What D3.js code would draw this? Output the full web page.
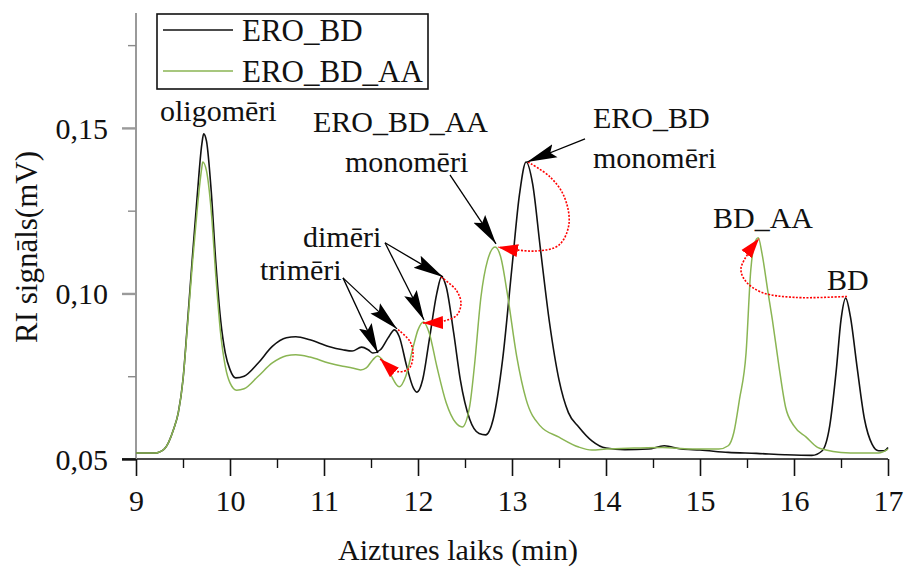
<!DOCTYPE html>
<html lang="lv">
<head>
<meta charset="UTF-8">
<title>RI signāls</title>
<script src="https://d3js.org/d3.v7.min.js"></script>
<style>
    body { margin: 0; background: #fff; }
    svg { display: block; font-family: "Times New Roman", Times, "Liberation Serif", "DejaVu Serif", "Noto Serif", serif; }
    .tick text { font-family: "Times New Roman", Times, "Liberation Serif", "DejaVu Serif", "Noto Serif", serif; font-size: 30px; fill: #111; }
    .ann { font-size: 30px; fill: #111; }
</style>
</head>
<body>
<svg width="912" height="569"></svg>
<script>
// ERO_BD (black) – [time min, signal mV]
const eroBD = [
    [9.00,0.0518],[9.20,0.0518],[9.30,0.0530],[9.40,0.0590],[9.45,0.0640],[9.50,0.0740],
    [9.55,0.0920],[9.60,0.1110],[9.65,0.1290],[9.70,0.1450],[9.72,0.1482],[9.75,0.1460],
    [9.80,0.1310],[9.85,0.1090],[9.90,0.0920],[9.95,0.0820],[10.00,0.0770],[10.06,0.0745],
    [10.15,0.0750],[10.30,0.0790],[10.45,0.0840],[10.60,0.0866],[10.70,0.0869],[10.85,0.0860],
    [11.05,0.0840],[11.20,0.0830],[11.30,0.0826],[11.40,0.0838],[11.47,0.0830],[11.52,0.0820],
    [11.60,0.0830],[11.68,0.0865],[11.75,0.0890],[11.80,0.0870],[11.88,0.0780],[11.95,0.0715],
    [11.99,0.0702],[12.05,0.0740],[12.12,0.0860],[12.20,0.1000],[12.25,0.1050],[12.30,0.1020],
    [12.38,0.0880],[12.45,0.0740],[12.55,0.0620],[12.65,0.0577],[12.72,0.0573],[12.80,0.0620],
    [12.90,0.0800],[13.00,0.1080],[13.08,0.1300],[13.15,0.1397],[13.22,0.1330],[13.30,0.1140],
    [13.40,0.0910],[13.50,0.0739],[13.60,0.0640],[13.71,0.0597],[13.85,0.0555],[14.00,0.0533],
    [14.20,0.0528],[14.45,0.0530],[14.62,0.0540],[14.80,0.0530],[15.00,0.0527],[15.30,0.0520],
    [15.60,0.0517],[15.90,0.0513],[16.19,0.0511],[16.30,0.0525],[16.38,0.0600],[16.45,0.0769],
    [16.50,0.0920],[16.55,0.0986],[16.60,0.0930],[16.67,0.0780],[16.75,0.0620],[16.83,0.0545],
    [16.90,0.0525],[16.96,0.0525],[17.00,0.0535]
];

// ERO_BD_AA (green)
const eroBDAA = [
    [9.00,0.0518],[9.20,0.0518],[9.30,0.0530],[9.40,0.0590],[9.45,0.0640],[9.50,0.0740],
    [9.55,0.0910],[9.60,0.1090],[9.65,0.1250],[9.70,0.1380],[9.71,0.1397],[9.75,0.1370],
    [9.80,0.1250],[9.85,0.1050],[9.90,0.0880],[9.95,0.0780],[10.00,0.0730],[10.07,0.0708],
    [10.15,0.0712],[10.30,0.0750],[10.45,0.0790],[10.60,0.0812],[10.70,0.0815],[10.85,0.0808],
    [11.05,0.0790],[11.20,0.0780],[11.30,0.0775],[11.39,0.0769],[11.45,0.0775],[11.52,0.0800],
    [11.57,0.0811],[11.62,0.0800],[11.70,0.0760],[11.80,0.0718],[11.87,0.0750],[11.95,0.0840],
    [12.00,0.0890],[12.06,0.0914],[12.12,0.0880],[12.20,0.0780],[12.30,0.0670],[12.40,0.0610],
    [12.47,0.0597],[12.55,0.0660],[12.60,0.0780],[12.67,0.0990],[12.74,0.1100],[12.82,0.1140],
    [12.88,0.1110],[12.95,0.1000],[13.05,0.0810],[13.15,0.0680],[13.30,0.0600],[13.50,0.0566],
    [13.71,0.0536],[13.85,0.0527],[14.00,0.0530],[14.30,0.0533],[14.60,0.0535],[14.90,0.0530],
    [15.20,0.0530],[15.30,0.0540],[15.36,0.0580],[15.42,0.0680],[15.49,0.0820],[15.54,0.1070],
    [15.58,0.1150],[15.62,0.1168],[15.66,0.1120],[15.72,0.1010],[15.77,0.0920],[15.84,0.0780],
    [15.91,0.0657],[16.00,0.0600],[16.13,0.0566],[16.25,0.0535],[16.34,0.0527],[16.50,0.0520],
    [16.70,0.0518],[16.90,0.0518],[17.00,0.0530]
];

const xMajor = [9, 10, 11, 12, 13, 14, 15, 16, 17];
const xMinor = [9.5, 10.5, 11.5, 12.5, 13.5, 14.5, 15.5, 16.5];
const yMajor = [0.05, 0.10, 0.15];
const yMinor = [0.075, 0.125, 0.175];

const seriesNames = ["ERO_BD", "ERO_BD_AA"];
const seriesColors = ["#111111", "#8ab553"];

// text labels: [text, time, signal] (left edge / baseline)
const labels = [
    ["oligomēri", 9.255, 0.1521],
    ["ERO_BD_AA", 10.883, 0.1488],
    ["monomēri", 11.223, 0.1367],
    ["ERO_BD", 13.862, 0.1500],
    ["monomēri", 13.862, 0.1379],
    ["dimēri", 10.777, 0.1140],
    ["trimēri", 10.319, 0.1041],
    ["BD_AA", 15.138, 0.1198],
    ["BD", 16.351, 0.1011]
];

// black pointer arrows: [fromT, fromV, toT, toV]
const pointers = [
    [13.777, 0.1467, 13.160, 0.1397],
    [12.340, 0.1358, 12.830, 0.1150],
    [11.649, 0.1153, 12.266, 0.1050],
    [11.649, 0.1153, 12.064, 0.0920],
    [11.202, 0.1047, 11.777, 0.0893],
    [11.202, 0.1047, 11.574, 0.0820]
];

// red dotted shift paths (black peak -> green peak)
const shifts = [
    [[13.170,0.1397],[13.404,0.1352],[13.553,0.1294],[13.606,0.1210],[13.499,0.1146],[13.245,0.1128],[12.851,0.1140]],
    [[12.245,0.1050],[12.404,0.1011],[12.457,0.0972],[12.415,0.0935],[12.277,0.0917],[12.053,0.0911]],
    [[11.787,0.0891],[11.915,0.0855],[11.947,0.0813],[11.904,0.0773],[11.787,0.0764],[11.596,0.0803]],
    [[16.564,0.0991],[16.011,0.0988],[15.660,0.1003],[15.489,0.1036],[15.436,0.1076],[15.628,0.1166]]
];

const svg = d3.select("svg");
const mLeft = 136, mRight = 888, mTop = 14, mBottom = 459;

const x = d3.scaleLinear().domain([9, 17]).range([mLeft, mRight]);
const y = d3.scaleLinear().domain([0.05, 0.1844]).range([mBottom, mTop]);

const defs = svg.append("defs");
defs.append("clipPath").attr("id", "plot")
    .append("rect").attr("x", mLeft).attr("y", mTop - 2)
    .attr("width", mRight - mLeft + 2).attr("height", mBottom - mTop + 2);

defs.append("marker").attr("id", "blackHead")
    .attr("markerUnits", "userSpaceOnUse")
    .attr("viewBox", "0 -8 32 16").attr("refX", 30).attr("refY", 0)
    .attr("markerWidth", 32).attr("markerHeight", 16).attr("orient", "auto")
    .append("path").attr("d", "M0,-7L30,0L0,7L5,0Z").attr("fill", "#000");

defs.append("marker").attr("id", "redHead")
    .attr("markerUnits", "userSpaceOnUse")
    .attr("viewBox", "0 -8 22 16").attr("refX", 20).attr("refY", 0)
    .attr("markerWidth", 22).attr("markerHeight", 16).attr("orient", "auto")
    .append("path").attr("d", "M0,-6.5L20,0L0,6.5Z").attr("fill", "#ff0000");

// axes
const gx = svg.append("g").attr("transform", `translate(0,${mBottom})`)
    .call(d3.axisBottom(x).tickValues(xMajor).tickSize(17).tickPadding(14).tickFormat(d3.format("d")));
gx.attr("font-family", null);
gx.select(".domain").attr("stroke", "#111").attr("stroke-width", 1.6).attr("d", `M${mLeft - 14},0H${mRight}`);
gx.selectAll(".tick line").attr("stroke", "#111").attr("stroke-width", 1.6);

svg.append("g").attr("transform", `translate(0,${mBottom})`)
    .call(d3.axisBottom(x).tickValues(xMinor).tickSize(9).tickFormat(""))
    .call(g => g.select(".domain").remove())
    .selectAll(".tick line").attr("stroke", "#111").attr("stroke-width", 1.4);

const gy = svg.append("g").attr("transform", `translate(${mLeft},0)`)
    .call(d3.axisLeft(y).tickValues(yMajor).tickSize(14).tickPadding(14)
        .tickFormat(d => d3.format(".2f")(d).replace(".", ",")));
gy.attr("font-family", null);
gy.select(".domain").attr("stroke", "#9a9a9a").attr("stroke-width", 2).attr("d", `M0,${mTop - 1}V${mBottom}`);
gy.selectAll(".tick line").attr("stroke", d => d === 0.05 ? "#111" : "#9a9a9a").attr("stroke-width", 2.4);
gy.selectAll(".tick text").attr("dy", "0.34em");

svg.append("g").attr("transform", `translate(${mLeft},0)`)
    .call(d3.axisLeft(y).tickValues(yMinor).tickSize(8).tickFormat(""))
    .call(g => g.select(".domain").remove())
    .selectAll(".tick line").attr("stroke", "#8a8a8a").attr("stroke-width", 1.4);

svg.append("text")
    .attr("transform", "translate(37,343) rotate(-90)")
    .attr("font-size", 31).attr("fill", "#111")
    .text("RI signāls(mV)");

svg.append("text")
    .attr("x", 338).attr("y", 560)
    .attr("font-size", 30).attr("fill", "#111")
    .text("Aiztures laiks (min)");

// curves
const line = d3.line().x(d => x(d[0])).y(d => y(d[1])).curve(d3.curveMonotoneX);
const plot = svg.append("g").attr("clip-path", "url(#plot)");
[eroBD, eroBDAA].forEach((s, i) => {
    plot.append("path").datum(s)
        .attr("d", line)
        .attr("fill", "none")
        .attr("stroke", seriesColors[i])
        .attr("stroke-width", i === 0 ? 1.6 : 1.5);
});

// red dotted shifts
const shiftLine = d3.line().x(d => x(d[0])).y(d => y(d[1])).curve(d3.curveCatmullRom);
svg.selectAll("path.shift").data(shifts).enter().append("path")
    .attr("class", "shift")
    .attr("d", shiftLine)
    .attr("fill", "none")
    .attr("stroke", "#ff0000")
    .attr("stroke-width", 1.6)
    .attr("stroke-dasharray", "2,1.5")
    .attr("marker-end", "url(#redHead)");

// black pointers
svg.selectAll("line.pointer").data(pointers).enter().append("line")
    .attr("class", "pointer")
    .attr("x1", d => x(d[0])).attr("y1", d => y(d[1]))
    .attr("x2", d => x(d[2])).attr("y2", d => y(d[3]))
    .attr("stroke", "#000").attr("stroke-width", 1.3)
    .attr("marker-end", "url(#blackHead)");

// labels
svg.selectAll("text.ann").data(labels).enter().append("text")
    .attr("class", "ann")
    .attr("x", d => x(d[1])).attr("y", d => y(d[2]))
    .text(d => d[0]);

// legend
const lg = svg.append("g");
lg.append("rect").attr("x", 157).attr("y", 14).attr("width", 271).attr("height", 75)
    .attr("fill", "#fff").attr("stroke", "#111").attr("stroke-width", 1.6);
seriesNames.forEach((name, i) => {
    const ly = 30 + i * 41;
    lg.append("line").attr("x1", 163).attr("x2", 233).attr("y1", ly).attr("y2", ly)
        .attr("stroke", seriesColors[i]).attr("stroke-width", 1.6);
    lg.append("text").attr("x", 242).attr("y", ly + 11)
        .attr("font-size", 31).attr("fill", "#111").text(name);
});
</script>
</body>
</html>
